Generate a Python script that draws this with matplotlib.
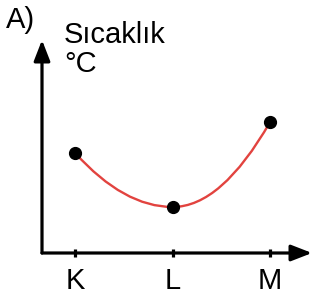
import matplotlib
matplotlib.use("Agg")
import matplotlib.pyplot as plt
from matplotlib.path import Path
from matplotlib.patches import PathPatch

plt.rcParams['font.family'] = ['Liberation Sans', 'DejaVu Sans']

# data (temperature in arbitrary units)
labels = ["K", "L", "M"]
xpos = [0, 1, 2]
temps = [5.0, 2.3, 6.55]

W, H = 316, 300
fig = plt.figure(figsize=(W / 100, H / 100), dpi=100)

# axes box in pixels: origin (42, 253), arrow tips at x=312 and y=40
left, bottom, right, top = 42, 253, 312, 40
ax = fig.add_axes([left / W, 1 - bottom / H, (right - left) / W, (bottom - top) / H])
ax.set_xlim(-0.34, 2.43)
ax.set_ylim(0, 10.65)
for s in ax.spines.values():
    s.set_visible(False)

# axis arrows
akw = dict(arrowstyle="-|>,head_length=0.9,head_width=0.35", color="black", lw=2.3,
           mutation_scale=14, shrinkA=0, shrinkB=0)
ax.annotate("", xy=(0, 1), xytext=(0, 0), xycoords="axes fraction", arrowprops=akw)
ax.annotate("", xy=(1, 0), xytext=(0, 0), xycoords="axes fraction", arrowprops=akw)

ax.set_xticks(xpos)
ax.set_xticklabels(labels, fontsize=21)
ax.set_yticks([])
ax.tick_params(axis="x", direction="inout", length=6, width=2.3, pad=7, colors="black")

# smooth red curve: quadratic beziers with horizontal tangent at the minimum
(x0, x1, x2), (y0, y1, y2) = xpos, temps
verts = [(x0, y0), ((x0 + x1) / 2, y1), (x1, y1), ((x1 + x2) / 2, y1), (x2, y2)]
codes = [Path.MOVETO, Path.CURVE3, Path.CURVE3, Path.CURVE3, Path.CURVE3]
ax.add_patch(PathPatch(Path(verts, codes), fc="none", ec="#e2433f", lw=1.7))

ax.plot(xpos, temps, "o", color="black", ms=8.5, zorder=3)

fig.text(6 / W, 1 - 28 / H, "A)", fontsize=21, va="baseline")
fig.text(64 / W, 1 - 43 / H, "Sıcaklık", fontsize=21, va="baseline")
fig.text(64 / W, 1 - 72 / H, "°C", fontsize=21, va="baseline")

fig.savefig("out.png", dpi=100)
